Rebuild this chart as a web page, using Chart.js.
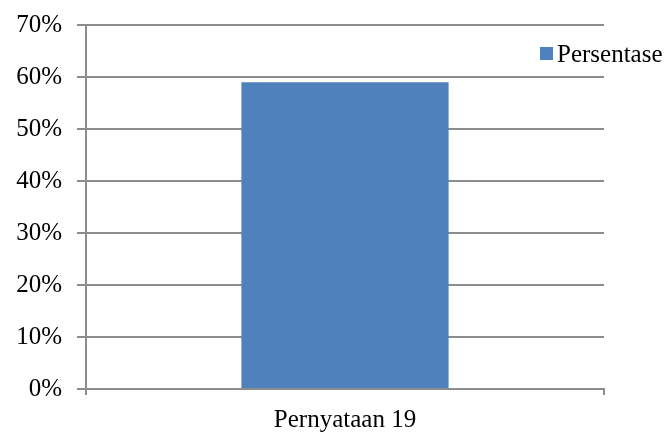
<!DOCTYPE html>
<html>
<head>
<meta charset="utf-8">
<script src="https://cdn.jsdelivr.net/npm/chart.js@4"></script>
<style>
  html, body { margin: 0; padding: 0; background: #ffffff; }
  #wrap { width: 672px; height: 433px; position: relative; }
</style>
</head>
<body>
<div id="wrap"><canvas id="chart" width="672" height="433"></canvas></div>
<script>
const categories = ['Pernyataan 19'];
const seriesName = 'Persentase';
const seriesValues = [59];
const yTicks = [0, 10, 20, 30, 40, 50, 60, 70];

const FONT = '"Liberation Serif", "Times New Roman", serif';
const FONT_SIZE = 25;
const BAR_COLOR = '#4F81BD';
const GRID_COLOR = '#8C8C8C';

// Legend drawn beside the plot: a small square swatch followed by the series name
const sideLegend = {
  id: 'sideLegend',
  afterDraw(chart) {
    const ctx = chart.ctx;
    const ds = chart.data.datasets[0];
    ctx.save();
    ctx.fillStyle = ds.backgroundColor;
    ctx.fillRect(540, 47, 13, 13);
    ctx.fillStyle = '#000000';
    ctx.font = FONT_SIZE + 'px ' + FONT;
    ctx.textBaseline = 'alphabetic';
    ctx.textAlign = 'left';
    ctx.fillText(ds.label, 557, 62);
    ctx.restore();
  }
};

new Chart(document.getElementById('chart'), {
  type: 'bar',
  data: {
    labels: categories,
    datasets: [{
      label: seriesName,
      data: seriesValues,
      backgroundColor: BAR_COLOR,
      borderWidth: 0,
      categoryPercentage: 1,
      barPercentage: 0.4
    }]
  },
  options: {
    responsive: false,
    animation: false,
    devicePixelRatio: 1,
    layout: { padding: { top: 25, right: 68, bottom: 0, left: 0 } },
    plugins: {
      legend: { display: false },
      tooltip: { enabled: false }
    },
    scales: {
      x: {
        grid: {
          offset: true,
          drawOnChartArea: false,
          drawTicks: true,
          tickLength: 6,
          color: GRID_COLOR,
          lineWidth: 2
        },
        border: { display: true, color: GRID_COLOR, width: 2 },
        ticks: {
          color: '#000000',
          font: { family: FONT, size: FONT_SIZE },
          padding: 10
        },
        afterFit(scale) {
          scale.height = 44;
          scale.paddingLeft = 0;
          scale.paddingRight = 0;
        }
      },
      y: {
        min: 0,
        max: 70,
        afterBuildTicks(scale) {
          scale.ticks = yTicks.map(v => ({ value: v }));
        },
        grid: {
          color: GRID_COLOR,
          lineWidth: 2,
          drawTicks: true,
          tickLength: 9
        },
        border: { display: true, color: GRID_COLOR, width: 2 },
        ticks: {
          color: '#000000',
          font: { family: FONT, size: FONT_SIZE },
          padding: 15,
          callback: v => v + '%'
        },
        afterFit(scale) {
          scale.width = 86;
          scale.paddingTop = 0;
          scale.paddingBottom = 0;
        }
      }
    }
  },
  plugins: [sideLegend]
});
</script>
</body>
</html>
